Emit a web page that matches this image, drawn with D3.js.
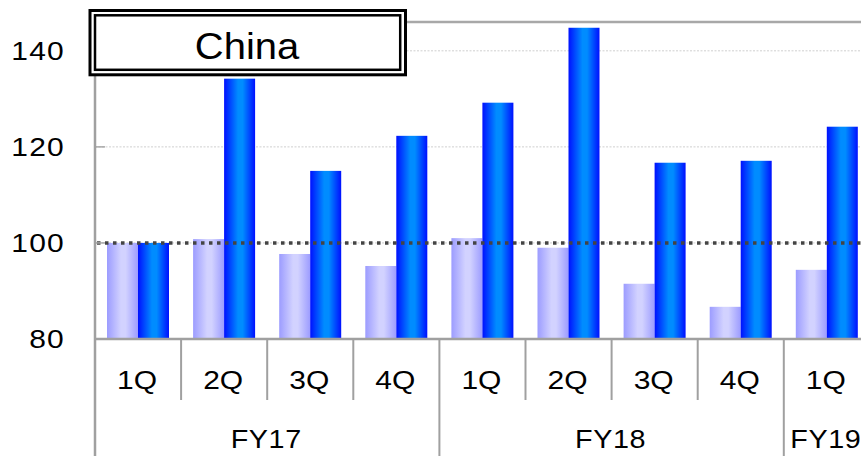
<!DOCTYPE html>
<html>
<head>
<meta charset="utf-8">
<script src="https://cdn.jsdelivr.net/npm/d3@7"></script>
<style>
  html, body { margin: 0; padding: 0; background: #fff; overflow: hidden; }
  svg { display: block; }
  text { font-family: "Liberation Sans", Arial, sans-serif; fill: #000; }
</style>
</head>
<body>
<svg id="chart" width="861" height="456"></svg>
<script>
// Quarterly index, China (1Q FY17 = 100)
const quarters = ["1Q", "2Q", "3Q", "4Q", "1Q", "2Q", "3Q", "4Q", "1Q"];
const fiscalYears = ["FY17", "FY17", "FY17", "FY17", "FY18", "FY18", "FY18", "FY18", "FY19"];
const seriesNames = ["prev", "curr"];
const prevValues = [100.0, 100.8, 97.7, 95.2, 101.0, 99.0, 91.5, 86.7, 94.4];
const currValues = [100.0, 134.2, 115.0, 122.3, 129.2, 144.8, 116.7, 117.1, 124.2];
const yTicks = [80, 100, 120, 140];
const referenceValue = 100;
const title = "China";

const svg = d3.select("#chart");
const W = 861, H = 456;
const left = 95, baseY = 339, topY = 22;
const step = 86.1;

const ids = quarters.map((q, i) => i);
const x0 = d3.scaleBand().domain(ids).range([left, left + step * ids.length]).paddingInner(0).paddingOuter(0);
const x1 = d3.scaleBand().domain(seriesNames).range([12, 74]).padding(0);
const y = d3.scaleLinear().domain([80, 146]).range([baseY, topY]);

// wide-set text: place at (x, y) and stretch horizontally
function placeText(sel, fx, fy, sx) {
  sel.attr("x", 0).attr("y", 0)
    .attr("transform", (d, i) => `translate(${fx(d, i)},${fy(d, i)}) scale(${sx},1)`);
}

// gradients for the bars
const defs = svg.append("defs");
function barGradient(id, edge, mid) {
  const g = defs.append("linearGradient").attr("id", id)
    .attr("x1", "0%").attr("x2", "100%").attr("y1", "0%").attr("y2", "0%");
  g.append("stop").attr("offset", "0%").attr("stop-color", edge);
  g.append("stop").attr("offset", "45%").attr("stop-color", mid);
  g.append("stop").attr("offset", "60%").attr("stop-color", mid);
  g.append("stop").attr("offset", "100%").attr("stop-color", edge);
}
barGradient("gPrev", "#9c9cff", "#d2d2ff");
barGradient("gCurr", "#0010ff", "#008cff");

// gridlines
const plotRight = W + 20;
svg.append("g").selectAll("line").data(yTicks.filter(t => t > 80)).join("line")
  .attr("x1", left).attr("x2", plotRight)
  .attr("y1", d => y(d)).attr("y2", d => y(d))
  .attr("stroke", "#cfcfcf").attr("stroke-width", 1).attr("stroke-dasharray", "2,1.5");

// plot top border
svg.append("line").attr("x1", left).attr("x2", plotRight)
  .attr("y1", y(146)).attr("y2", y(146))
  .attr("stroke", "#a8a8a8").attr("stroke-width", 2.5);

// bars
const groups = svg.append("g").selectAll("g").data(ids).join("g")
  .attr("transform", i => `translate(${x0(i)},0)`);
groups.append("rect")
  .attr("x", x1("prev")).attr("width", x1.bandwidth())
  .attr("y", i => y(prevValues[i])).attr("height", i => y(80) - y(prevValues[i]))
  .attr("fill", "url(#gPrev)");
groups.append("rect")
  .attr("x", x1("curr")).attr("width", x1.bandwidth())
  .attr("y", i => y(currValues[i])).attr("height", i => y(80) - y(currValues[i]))
  .attr("fill", "url(#gCurr)");

// reference line at 100
svg.append("line").attr("x1", left + 2).attr("x2", plotRight)
  .attr("y1", y(referenceValue)).attr("y2", y(referenceValue))
  .attr("stroke", "#444").attr("stroke-width", 3.5).attr("stroke-dasharray", "3.5,4.5");

// y axis
const yAxis = d3.axisLeft(y).tickValues(yTicks).tickSize(0).tickPadding(0);
const ya = svg.append("g").call(yAxis);
ya.select(".domain").remove();
ya.selectAll(".tick").attr("transform", null);
ya.selectAll("text")
  .attr("text-anchor", "end").attr("dy", null)
  .style("font-size", "25px").style("letter-spacing", "1px")
  .style("font-family", "'Liberation Sans', Arial, sans-serif").attr("fill", "#000")
  .call(placeText, () => 65, d => y(d) + 9, 1.2);
// inner tick stubs
svg.append("g").selectAll("line").data(yTicks.filter(t => t > 80)).join("line")
  .attr("x1", left).attr("x2", left + 10).attr("y1", d => y(d)).attr("y2", d => y(d))
  .attr("stroke", "#a8a8a8").attr("stroke-width", 1.5);

// left axis line (runs down through the category area)
svg.append("line").attr("x1", left).attr("x2", left).attr("y1", y(146)).attr("y2", H)
  .attr("stroke", "#a0a0a0").attr("stroke-width", 2.5);

// x baseline
svg.append("line").attr("x1", left).attr("x2", plotRight).attr("y1", baseY).attr("y2", baseY)
  .attr("stroke", "#a0a0a0").attr("stroke-width", 2.5);

// category separators: quarter level and fiscal-year level
const bounds = d3.range(1, ids.length + 1);
svg.append("g").selectAll("line").data(bounds).join("line")
  .attr("x1", i => x0.step() * i + left).attr("x2", i => x0.step() * i + left)
  .attr("y1", baseY).attr("y2", i => (i < ids.length && fiscalYears[i] !== fiscalYears[i - 1]) ? H : 400)
  .attr("stroke", "#a0a0a0").attr("stroke-width", 2);

// quarter labels
svg.append("g").selectAll("text").data(ids).join("text")
  .attr("text-anchor", "middle")
  .style("font-size", "25px")
  .text(i => quarters[i])
  .call(placeText, i => x0(i) + x0.bandwidth() / 2 - 1, () => 389, 1.2);

// fiscal-year labels centred under their quarters
const yearGroups = d3.groups(ids, i => fiscalYears[i]);
svg.append("g").selectAll("text").data(yearGroups).join("text")
  .attr("text-anchor", "middle")
  .style("font-size", "25px").style("letter-spacing", "0.5px")
  .text(([k]) => k)
  .call(placeText, ([, idx]) => (x0(idx[0]) + x0(idx[idx.length - 1]) + x0.bandwidth()) / 2 - 1, () => 448, 1.15);

// title box with double border
const tb = svg.append("g");
tb.append("rect").attr("x", 90).attr("y", 10.5).attr("width", 315.5).attr("height", 64.3)
  .attr("fill", "#fff").attr("stroke", "#000").attr("stroke-width", 3);
tb.append("rect").attr("x", 95).attr("y", 15.3).attr("width", 305.2).attr("height", 54.5)
  .attr("fill", "none").attr("stroke", "#000").attr("stroke-width", 2.5);
tb.append("text").attr("text-anchor", "middle")
  .style("font-size", "37px")
  .text(title)
  .call(placeText, () => 247, () => 58.5, 1.08);
</script>
</body>
</html>
